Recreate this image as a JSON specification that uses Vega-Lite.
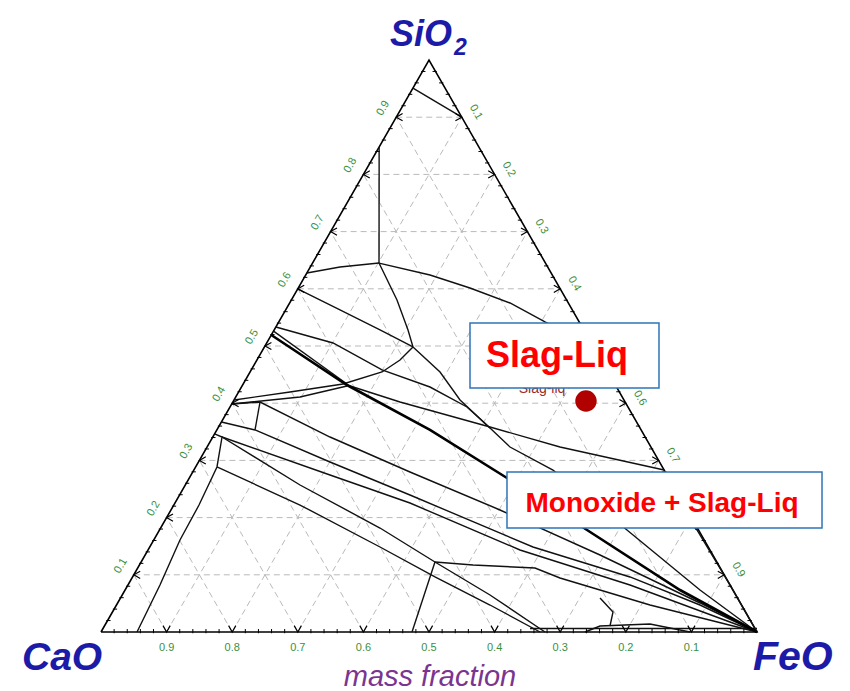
{
  "$schema": "https://vega.github.io/schema/vega-lite/v6.json",
  "width": 656,
  "height": 572,
  "autosize": {"type": "none"},
  "padding": {"left": 101, "top": 60, "right": 93, "bottom": 59},
  "background": "white",
  "config": {"view": {"stroke": null}, "font": "Liberation Sans"},
  "datasets": {
    "grid": [
      {"x": 0.05, "s": 0.1, "x2": 0.95, "s2": 0.1},
      {"x": 0.1, "s": 0.2, "x2": 0.9, "s2": 0.2},
      {"x": 0.15, "s": 0.3, "x2": 0.85, "s2": 0.3},
      {"x": 0.2, "s": 0.4, "x2": 0.8, "s2": 0.4},
      {"x": 0.25, "s": 0.5, "x2": 0.75, "s2": 0.5},
      {"x": 0.3, "s": 0.6, "x2": 0.7, "s2": 0.6},
      {"x": 0.35, "s": 0.7, "x2": 0.65, "s2": 0.7},
      {"x": 0.4, "s": 0.8, "x2": 0.6, "s2": 0.8},
      {"x": 0.45, "s": 0.9, "x2": 0.55, "s2": 0.9},
      {"x": 0.1, "s": 0, "x2": 0.55, "s2": 0.9},
      {"x": 0.2, "s": 0, "x2": 0.6, "s2": 0.8},
      {"x": 0.3, "s": 0, "x2": 0.65, "s2": 0.7},
      {"x": 0.4, "s": 0, "x2": 0.7, "s2": 0.6},
      {"x": 0.5, "s": 0, "x2": 0.75, "s2": 0.5},
      {"x": 0.6, "s": 0, "x2": 0.8, "s2": 0.4},
      {"x": 0.7, "s": 0, "x2": 0.85, "s2": 0.3},
      {"x": 0.8, "s": 0, "x2": 0.9, "s2": 0.2},
      {"x": 0.9, "s": 0, "x2": 0.95, "s2": 0.1},
      {"x": 0.9, "s": 0, "x2": 0.45, "s2": 0.9},
      {"x": 0.8, "s": 0, "x2": 0.4, "s2": 0.8},
      {"x": 0.7, "s": 0, "x2": 0.35, "s2": 0.7},
      {"x": 0.6, "s": 0, "x2": 0.3, "s2": 0.6},
      {"x": 0.5, "s": 0, "x2": 0.25, "s2": 0.5},
      {"x": 0.4, "s": 0, "x2": 0.2, "s2": 0.4},
      {"x": 0.3, "s": 0, "x2": 0.15, "s2": 0.3},
      {"x": 0.2, "s": 0, "x2": 0.1, "s2": 0.2},
      {"x": 0.1, "s": 0, "x2": 0.05, "s2": 0.1}
    ],
    "triangle": [
      {"o": 0, "x": 0, "s": 0},
      {"o": 1, "x": 0.5, "s": 1},
      {"o": 2, "x": 1, "s": 0},
      {"o": 3, "x": 0, "s": 0}
    ],
    "phase": [
      {"id": "L1", "o": 0, "x": 0.4755, "s": 0.951},
      {"id": "L1", "o": 1, "x": 0.55, "s": 0.9},
      {"id": "L2", "o": 0, "x": 0.424, "s": 0.848},
      {"id": "L2", "o": 1, "x": 0.4238, "s": 0.645},
      {"id": "L3", "o": 0, "x": 0.4238, "s": 0.645},
      {"id": "L3", "o": 1, "x": 0.3643, "s": 0.6381},
      {"id": "L3", "o": 2, "x": 0.3138, "s": 0.6276},
      {"id": "L4", "o": 0, "x": 0.4238, "s": 0.645},
      {"id": "L4", "o": 1, "x": 0.5015, "s": 0.6241},
      {"id": "L4", "o": 2, "x": 0.5625, "s": 0.6014},
      {"id": "L4", "o": 3, "x": 0.6235, "s": 0.5752},
      {"id": "L4", "o": 4, "x": 0.6768, "s": 0.542},
      {"id": "L4", "o": 5, "x": 0.75, "s": 0.5},
      {"id": "L5", "o": 0, "x": 0.4238, "s": 0.645},
      {"id": "L5", "o": 1, "x": 0.4512, "s": 0.5804},
      {"id": "L5", "o": 2, "x": 0.468, "s": 0.528},
      {"id": "L5", "o": 3, "x": 0.4756, "s": 0.4983},
      {"id": "L6", "o": 0, "x": 0.4756, "s": 0.4983},
      {"id": "L6", "o": 1, "x": 0.4558, "s": 0.4755},
      {"id": "L6", "o": 2, "x": 0.4284, "s": 0.4546},
      {"id": "L6", "o": 3, "x": 0.3689, "s": 0.4336},
      {"id": "L6", "o": 4, "x": 0.2881, "s": 0.4196},
      {"id": "L6", "o": 5, "x": 0.2028, "s": 0.4056},
      {"id": "L7", "o": 0, "x": 0.1993, "s": 0.3986},
      {"id": "L7", "o": 1, "x": 0.3034, "s": 0.4108},
      {"id": "L7", "o": 2, "x": 0.375, "s": 0.4301},
      {"id": "L8", "o": 0, "x": 0.2998, "s": 0.5997},
      {"id": "L8", "o": 1, "x": 0.3643, "s": 0.563},
      {"id": "L8", "o": 2, "x": 0.4253, "s": 0.528},
      {"id": "L8", "o": 3, "x": 0.4756, "s": 0.4983},
      {"id": "L9", "o": 0, "x": 0.4756, "s": 0.4983},
      {"id": "L9", "o": 1, "x": 0.5168, "s": 0.4546},
      {"id": "L9", "o": 2, "x": 0.5473, "s": 0.4056},
      {"id": "L9", "o": 3, "x": 0.593, "s": 0.3567},
      {"id": "L9", "o": 4, "x": 0.6235, "s": 0.3234},
      {"id": "L9", "o": 5, "x": 0.689, "s": 0.2832},
      {"id": "L9", "o": 6, "x": 0.8018, "s": 0.1783},
      {"id": "L9", "o": 7, "x": 0.9131, "s": 0.0734},
      {"id": "L9", "o": 8, "x": 1, "s": 0},
      {"id": "L9b", "o": 0, "x": 0.375, "s": 0.4318},
      {"id": "L9b", "o": 1, "x": 0.4558, "s": 0.4021},
      {"id": "L9b", "o": 2, "x": 0.593, "s": 0.3584},
      {"id": "L9b", "o": 3, "x": 0.6997, "s": 0.3234},
      {"id": "L9b", "o": 4, "x": 0.8584, "s": 0.2832},
      {"id": "L10", "o": 0, "x": 0.2666, "s": 0.5332},
      {"id": "L10", "o": 1, "x": 0.3537, "s": 0.5053},
      {"id": "L10", "o": 2, "x": 0.4284, "s": 0.4581},
      {"id": "L10", "o": 3, "x": 0.5015, "s": 0.4283},
      {"id": "L10", "o": 4, "x": 0.5579, "s": 0.3934},
      {"id": "L10", "o": 5, "x": 0.593, "s": 0.3567},
      {"id": "F1", "o": 0, "x": 0.2596, "s": 0.5192},
      {"id": "F1", "o": 1, "x": 0.375, "s": 0.4318},
      {"id": "F1", "o": 2, "x": 0.5015, "s": 0.3532},
      {"id": "F1", "o": 3, "x": 0.6189, "s": 0.2692},
      {"id": "F1", "o": 4, "x": 0.7409, "s": 0.1783},
      {"id": "F1", "o": 5, "x": 0.8826, "s": 0.0734},
      {"id": "F1", "o": 6, "x": 1, "s": 0},
      {"id": "F1b", "o": 0, "x": 0.263, "s": 0.526},
      {"id": "F1b", "o": 1, "x": 0.375, "s": 0.4336},
      {"id": "F2", "o": 0, "x": 0.1993, "s": 0.3986},
      {"id": "F2", "o": 1, "x": 0.2424, "s": 0.4021},
      {"id": "F2", "o": 2, "x": 0.3491, "s": 0.3409},
      {"id": "F2", "o": 3, "x": 0.471, "s": 0.2797},
      {"id": "F2", "o": 4, "x": 0.6082, "s": 0.2133},
      {"id": "F2", "o": 5, "x": 0.7607, "s": 0.1346},
      {"id": "F2", "o": 6, "x": 0.9131, "s": 0.0507},
      {"id": "F2", "o": 7, "x": 1, "s": 0},
      {"id": "F3", "o": 0, "x": 0.2348, "s": 0.3532},
      {"id": "F3", "o": 1, "x": 0.3491, "s": 0.2972},
      {"id": "F3", "o": 2, "x": 0.471, "s": 0.2395},
      {"id": "F3", "o": 3, "x": 0.6585, "s": 0.1486},
      {"id": "F3", "o": 4, "x": 0.8064, "s": 0.0962},
      {"id": "F3", "o": 5, "x": 0.9131, "s": 0.0472},
      {"id": "F3", "o": 6, "x": 1, "s": 0},
      {"id": "F4", "o": 0, "x": 0.1845, "s": 0.3409},
      {"id": "F4", "o": 1, "x": 0.3491, "s": 0.2745},
      {"id": "F4", "o": 2, "x": 0.471, "s": 0.2255},
      {"id": "F4", "o": 3, "x": 0.6387, "s": 0.1434},
      {"id": "F4", "o": 4, "x": 0.8064, "s": 0.0822},
      {"id": "F4", "o": 5, "x": 1, "s": 0},
      {"id": "F5", "o": 0, "x": 0.1768, "s": 0.2885},
      {"id": "F5", "o": 1, "x": 0.3034, "s": 0.222},
      {"id": "F5", "o": 2, "x": 0.4253, "s": 0.1486},
      {"id": "F5", "o": 3, "x": 0.5091, "s": 0.0962},
      {"id": "F5", "o": 4, "x": 0.593, "s": 0.0472},
      {"id": "F5", "o": 5, "x": 0.6692, "s": 0},
      {"id": "F6", "o": 0, "x": 0.1845, "s": 0.3409},
      {"id": "F6", "o": 1, "x": 0.3034, "s": 0.257},
      {"id": "F6", "o": 2, "x": 0.4253, "s": 0.1818},
      {"id": "F6", "o": 3, "x": 0.5091, "s": 0.1224},
      {"id": "F6", "o": 4, "x": 0.593, "s": 0.0647},
      {"id": "F6", "o": 5, "x": 0.6768, "s": 0},
      {"id": "V", "o": 0, "x": 0.1731, "s": 0.3462},
      {"id": "V", "o": 1, "x": 0.1845, "s": 0.3409},
      {"id": "V", "o": 2, "x": 0.1768, "s": 0.2885},
      {"id": "V", "o": 3, "x": 0.1494, "s": 0.222},
      {"id": "V", "o": 4, "x": 0.1204, "s": 0.1608},
      {"id": "V", "o": 5, "x": 0.0899, "s": 0.0822},
      {"id": "V", "o": 6, "x": 0.0549, "s": 0},
      {"id": "S2", "o": 0, "x": 0.2424, "s": 0.4021},
      {"id": "S2", "o": 1, "x": 0.2348, "s": 0.3532},
      {"id": "S3", "o": 0, "x": 0.1836, "s": 0.3671},
      {"id": "S3", "o": 1, "x": 0.2348, "s": 0.3532},
      {"id": "J1", "o": 0, "x": 0.5091, "s": 0.1224},
      {"id": "J1", "o": 1, "x": 0.4741, "s": 0},
      {"id": "J2", "o": 0, "x": 0.5091, "s": 0.1224},
      {"id": "J2", "o": 1, "x": 0.5671, "s": 0.1171},
      {"id": "J2", "o": 2, "x": 0.6616, "s": 0.1119},
      {"id": "J2", "o": 3, "x": 0.6997, "s": 0.0944},
      {"id": "J2", "o": 4, "x": 0.8369, "s": 0.0472},
      {"id": "J2", "o": 5, "x": 1, "s": 0},
      {"id": "B1", "o": 0, "x": 0.7607, "s": 0.0594},
      {"id": "B1", "o": 1, "x": 0.7805, "s": 0.035},
      {"id": "B1", "o": 2, "x": 0.7759, "s": 0.0105},
      {"id": "B2", "o": 0, "x": 0.7378, "s": 0},
      {"id": "B2", "o": 1, "x": 0.7607, "s": 0.0105},
      {"id": "B2", "o": 2, "x": 0.8369, "s": 0.014},
      {"id": "B2", "o": 3, "x": 0.8979, "s": 0},
      {"id": "ST", "o": 0, "x": 0.8216, "s": 0.2797},
      {"id": "ST", "o": 1, "x": 0.9085, "s": 0.1783},
      {"id": "ST", "o": 2, "x": 0.9588, "s": 0.0822},
      {"id": "ST", "o": 3, "x": 1, "s": 0},
      {"id": "BB", "o": 0, "x": 0.654, "s": 0.006},
      {"id": "BB", "o": 1, "x": 1, "s": 0.006}
    ],
    "minorTicks": [
      {"e": "L", "x": 0.01, "s": 0.02}, {"e": "L", "x": 0.02, "s": 0.04}, {"e": "L", "x": 0.03, "s": 0.06}, {"e": "L", "x": 0.04, "s": 0.08},
      {"e": "L", "x": 0.06, "s": 0.12}, {"e": "L", "x": 0.07, "s": 0.14}, {"e": "L", "x": 0.08, "s": 0.16}, {"e": "L", "x": 0.09, "s": 0.18},
      {"e": "L", "x": 0.11, "s": 0.22}, {"e": "L", "x": 0.12, "s": 0.24}, {"e": "L", "x": 0.13, "s": 0.26}, {"e": "L", "x": 0.14, "s": 0.28},
      {"e": "L", "x": 0.16, "s": 0.32}, {"e": "L", "x": 0.17, "s": 0.34}, {"e": "L", "x": 0.18, "s": 0.36}, {"e": "L", "x": 0.19, "s": 0.38},
      {"e": "L", "x": 0.21, "s": 0.42}, {"e": "L", "x": 0.22, "s": 0.44}, {"e": "L", "x": 0.23, "s": 0.46}, {"e": "L", "x": 0.24, "s": 0.48},
      {"e": "L", "x": 0.26, "s": 0.52}, {"e": "L", "x": 0.27, "s": 0.54}, {"e": "L", "x": 0.28, "s": 0.56}, {"e": "L", "x": 0.29, "s": 0.58},
      {"e": "L", "x": 0.31, "s": 0.62}, {"e": "L", "x": 0.32, "s": 0.64}, {"e": "L", "x": 0.33, "s": 0.66}, {"e": "L", "x": 0.34, "s": 0.68},
      {"e": "L", "x": 0.36, "s": 0.72}, {"e": "L", "x": 0.37, "s": 0.74}, {"e": "L", "x": 0.38, "s": 0.76}, {"e": "L", "x": 0.39, "s": 0.78},
      {"e": "L", "x": 0.41, "s": 0.82}, {"e": "L", "x": 0.42, "s": 0.84}, {"e": "L", "x": 0.43, "s": 0.86}, {"e": "L", "x": 0.44, "s": 0.88},
      {"e": "L", "x": 0.46, "s": 0.92}, {"e": "L", "x": 0.47, "s": 0.94}, {"e": "L", "x": 0.48, "s": 0.96}, {"e": "L", "x": 0.49, "s": 0.98},
      {"e": "R", "x": 0.99, "s": 0.02}, {"e": "R", "x": 0.98, "s": 0.04}, {"e": "R", "x": 0.97, "s": 0.06}, {"e": "R", "x": 0.96, "s": 0.08},
      {"e": "R", "x": 0.94, "s": 0.12}, {"e": "R", "x": 0.93, "s": 0.14}, {"e": "R", "x": 0.92, "s": 0.16}, {"e": "R", "x": 0.91, "s": 0.18},
      {"e": "R", "x": 0.89, "s": 0.22}, {"e": "R", "x": 0.88, "s": 0.24}, {"e": "R", "x": 0.87, "s": 0.26}, {"e": "R", "x": 0.86, "s": 0.28},
      {"e": "R", "x": 0.84, "s": 0.32}, {"e": "R", "x": 0.83, "s": 0.34}, {"e": "R", "x": 0.82, "s": 0.36}, {"e": "R", "x": 0.81, "s": 0.38},
      {"e": "R", "x": 0.79, "s": 0.42}, {"e": "R", "x": 0.78, "s": 0.44}, {"e": "R", "x": 0.77, "s": 0.46}, {"e": "R", "x": 0.76, "s": 0.48},
      {"e": "R", "x": 0.74, "s": 0.52}, {"e": "R", "x": 0.73, "s": 0.54}, {"e": "R", "x": 0.72, "s": 0.56}, {"e": "R", "x": 0.71, "s": 0.58},
      {"e": "R", "x": 0.69, "s": 0.62}, {"e": "R", "x": 0.68, "s": 0.64}, {"e": "R", "x": 0.67, "s": 0.66}, {"e": "R", "x": 0.66, "s": 0.68},
      {"e": "R", "x": 0.64, "s": 0.72}, {"e": "R", "x": 0.63, "s": 0.74}, {"e": "R", "x": 0.62, "s": 0.76}, {"e": "R", "x": 0.61, "s": 0.78},
      {"e": "R", "x": 0.59, "s": 0.82}, {"e": "R", "x": 0.58, "s": 0.84}, {"e": "R", "x": 0.57, "s": 0.86}, {"e": "R", "x": 0.56, "s": 0.88},
      {"e": "R", "x": 0.54, "s": 0.92}, {"e": "R", "x": 0.53, "s": 0.94}, {"e": "R", "x": 0.52, "s": 0.96}, {"e": "R", "x": 0.51, "s": 0.98},
      {"e": "B", "x": 0.02, "s": 0}, {"e": "B", "x": 0.04, "s": 0}, {"e": "B", "x": 0.06, "s": 0}, {"e": "B", "x": 0.08, "s": 0},
      {"e": "B", "x": 0.12, "s": 0}, {"e": "B", "x": 0.14, "s": 0}, {"e": "B", "x": 0.16, "s": 0}, {"e": "B", "x": 0.18, "s": 0},
      {"e": "B", "x": 0.22, "s": 0}, {"e": "B", "x": 0.24, "s": 0}, {"e": "B", "x": 0.26, "s": 0}, {"e": "B", "x": 0.28, "s": 0},
      {"e": "B", "x": 0.32, "s": 0}, {"e": "B", "x": 0.34, "s": 0}, {"e": "B", "x": 0.36, "s": 0}, {"e": "B", "x": 0.38, "s": 0},
      {"e": "B", "x": 0.42, "s": 0}, {"e": "B", "x": 0.44, "s": 0}, {"e": "B", "x": 0.46, "s": 0}, {"e": "B", "x": 0.48, "s": 0},
      {"e": "B", "x": 0.52, "s": 0}, {"e": "B", "x": 0.54, "s": 0}, {"e": "B", "x": 0.56, "s": 0}, {"e": "B", "x": 0.58, "s": 0},
      {"e": "B", "x": 0.62, "s": 0}, {"e": "B", "x": 0.64, "s": 0}, {"e": "B", "x": 0.66, "s": 0}, {"e": "B", "x": 0.68, "s": 0},
      {"e": "B", "x": 0.72, "s": 0}, {"e": "B", "x": 0.74, "s": 0}, {"e": "B", "x": 0.76, "s": 0}, {"e": "B", "x": 0.78, "s": 0},
      {"e": "B", "x": 0.82, "s": 0}, {"e": "B", "x": 0.84, "s": 0}, {"e": "B", "x": 0.86, "s": 0}, {"e": "B", "x": 0.88, "s": 0},
      {"e": "B", "x": 0.92, "s": 0}, {"e": "B", "x": 0.94, "s": 0}, {"e": "B", "x": 0.96, "s": 0}, {"e": "B", "x": 0.98, "s": 0}
    ],
    "majorTicks": [
      {"e": "L", "x": 0.05, "s": 0.1, "t": "0.1"}, {"e": "L", "x": 0.1, "s": 0.2, "t": "0.2"}, {"e": "L", "x": 0.15, "s": 0.3, "t": "0.3"},
      {"e": "L", "x": 0.2, "s": 0.4, "t": "0.4"}, {"e": "L", "x": 0.25, "s": 0.5, "t": "0.5"}, {"e": "L", "x": 0.3, "s": 0.6, "t": "0.6"},
      {"e": "L", "x": 0.35, "s": 0.7, "t": "0.7"}, {"e": "L", "x": 0.4, "s": 0.8, "t": "0.8"}, {"e": "L", "x": 0.45, "s": 0.9, "t": "0.9"},
      {"e": "R", "x": 0.55, "s": 0.9, "t": "0.1"}, {"e": "R", "x": 0.6, "s": 0.8, "t": "0.2"}, {"e": "R", "x": 0.65, "s": 0.7, "t": "0.3"},
      {"e": "R", "x": 0.7, "s": 0.6, "t": "0.4"}, {"e": "R", "x": 0.75, "s": 0.5, "t": "0.5"}, {"e": "R", "x": 0.8, "s": 0.4, "t": "0.6"},
      {"e": "R", "x": 0.85, "s": 0.3, "t": "0.7"}, {"e": "R", "x": 0.9, "s": 0.2, "t": "0.8"}, {"e": "R", "x": 0.95, "s": 0.1, "t": "0.9"},
      {"e": "B", "x": 0.1, "s": 0, "t": "0.9"}, {"e": "B", "x": 0.2, "s": 0, "t": "0.8"}, {"e": "B", "x": 0.3, "s": 0, "t": "0.7"},
      {"e": "B", "x": 0.4, "s": 0, "t": "0.6"}, {"e": "B", "x": 0.5, "s": 0, "t": "0.5"}, {"e": "B", "x": 0.6, "s": 0, "t": "0.4"},
      {"e": "B", "x": 0.7, "s": 0, "t": "0.3"}, {"e": "B", "x": 0.8, "s": 0, "t": "0.2"}, {"e": "B", "x": 0.9, "s": 0, "t": "0.1"}
    ],
    "boxes": [
      {"x": 0.5625, "x2": 0.8506, "s": 0.5402, "s2": 0.4266},
      {"x": 0.6189, "x2": 1.0991, "s": 0.2797, "s2": 0.1818}
    ]
  },
  "encoding": {
    "x": {"field": "x", "type": "quantitative", "scale": {"domain": [0, 1], "nice": false, "zero": false}, "axis": null},
    "y": {"field": "s", "type": "quantitative", "scale": {"domain": [0, 1], "nice": false, "zero": false}, "axis": null}
  },
  "layer": [
    {
      "data": {"name": "grid"},
      "mark": {"type": "rule", "color": "#bababa", "strokeWidth": 1, "strokeDash": [6, 4], "clip": false},
      "encoding": {"x2": {"field": "x2"}, "y2": {"field": "s2"}}
    },
    {
      "data": {"name": "triangle"},
      "mark": {"type": "line", "color": "#000000", "strokeWidth": 1.6, "clip": false},
      "encoding": {"order": {"field": "o", "type": "quantitative"}}
    },
    {
      "data": {"name": "phase"},
      "transform": [{"filter": "datum.id !== 'F1'"}],
      "mark": {"type": "line", "color": "#111111", "strokeWidth": 1.4, "clip": false},
      "encoding": {
        "detail": {"field": "id", "type": "nominal"},
        "order": {"field": "o", "type": "quantitative"}
      }
    },
    {
      "data": {"name": "phase"},
      "transform": [{"filter": "datum.id === 'F1'"}],
      "mark": {"type": "line", "color": "#000000", "strokeWidth": 2.6, "clip": false},
      "encoding": {
        "detail": {"field": "id", "type": "nominal"},
        "order": {"field": "o", "type": "quantitative"}
      }
    },
    {
      "data": {"name": "minorTicks"},
      "transform": [{"filter": "datum.e === 'L'"}],
      "mark": {"type": "point", "shape": "M-0.5,0L1.2,0", "size": 25, "filled": false, "stroke": "#000000", "strokeWidth": 1, "opacity": 1, "clip": false}
    },
    {
      "data": {"name": "minorTicks"},
      "transform": [{"filter": "datum.e === 'R'"}],
      "mark": {"type": "point", "shape": "M0.5,0L-1.2,0", "size": 25, "filled": false, "stroke": "#000000", "strokeWidth": 1, "opacity": 1, "clip": false}
    },
    {
      "data": {"name": "minorTicks"},
      "transform": [{"filter": "datum.e === 'B'"}],
      "mark": {"type": "point", "shape": "M0,0.5L0,-1.2", "size": 25, "filled": false, "stroke": "#000000", "strokeWidth": 1, "opacity": 1, "clip": false}
    },
    {
      "data": {"name": "majorTicks"},
      "transform": [{"filter": "datum.e === 'L'"}],
      "mark": {"type": "point", "shape": "M1.6,-0.9L0,0L1.6,0.9", "size": 64, "filled": false, "stroke": "#000000", "strokeWidth": 1.2, "opacity": 1, "clip": false}
    },
    {
      "data": {"name": "majorTicks"},
      "transform": [{"filter": "datum.e === 'R'"}],
      "mark": {"type": "point", "shape": "M-1.6,-0.9L0,0L-1.6,0.9", "size": 64, "filled": false, "stroke": "#000000", "strokeWidth": 1.2, "opacity": 1, "clip": false}
    },
    {
      "data": {"name": "majorTicks"},
      "transform": [{"filter": "datum.e === 'B'"}],
      "mark": {"type": "point", "shape": "M-0.9,-1.6L0,0L0.9,-1.6", "size": 64, "filled": false, "stroke": "#000000", "strokeWidth": 1.2, "opacity": 1, "clip": false}
    },
    {
      "data": {"name": "majorTicks"},
      "transform": [{"filter": "datum.e === 'L'"}],
      "mark": {"type": "text", "fontSize": 11, "color": "#3d8f3d", "angle": 300, "align": "center", "baseline": "middle", "radius": 15.8, "theta": -0.965, "clip": false},
      "encoding": {"text": {"field": "t"}}
    },
    {
      "data": {"name": "majorTicks"},
      "transform": [{"filter": "datum.e === 'R'"}],
      "mark": {"type": "text", "fontSize": 11, "color": "#3d8f3d", "angle": 60, "align": "center", "baseline": "middle", "radius": 15, "theta": 1.227, "clip": false},
      "encoding": {"text": {"field": "t"}}
    },
    {
      "data": {"name": "majorTicks"},
      "transform": [{"filter": "datum.e === 'B'"}],
      "mark": {"type": "text", "fontSize": 11, "color": "#3d8f3d", "align": "center", "baseline": "middle", "dy": 16, "clip": false},
      "encoding": {"text": {"field": "t"}}
    },
    {
      "data": {"values": [{"t": "SiO", "x": 0.4405, "s": 1.0245}]},
      "mark": {"type": "text", "fontSize": 36, "fontStyle": "italic", "fontWeight": "bold", "color": "#1b1ba8", "align": "left", "baseline": "alphabetic", "clip": false},
      "encoding": {"text": {"field": "t"}}
    },
    {
      "data": {"values": [{"t": "2", "x": 0.5381, "s": 1.0087}]},
      "mark": {"type": "text", "fontSize": 23, "fontStyle": "italic", "fontWeight": "bold", "color": "#1b1ba8", "align": "left", "baseline": "alphabetic", "clip": false},
      "encoding": {"text": {"field": "t"}}
    },
    {
      "data": {"values": [{"t": "CaO", "x": -0.1204, "s": -0.0664}]},
      "mark": {"type": "text", "fontSize": 39, "fontStyle": "italic", "fontWeight": "bold", "color": "#1b1ba8", "align": "left", "baseline": "alphabetic", "clip": false},
      "encoding": {"text": {"field": "t"}}
    },
    {
      "data": {"values": [{"t": "FeO", "x": 0.9939, "s": -0.0664}]},
      "mark": {"type": "text", "fontSize": 41, "fontStyle": "italic", "fontWeight": "bold", "color": "#1b1ba8", "align": "left", "baseline": "alphabetic", "clip": false},
      "encoding": {"text": {"field": "t"}}
    },
    {
      "data": {"values": [{"t": "mass fraction", "x": 0.5015, "s": -0.0944}]},
      "mark": {"type": "text", "fontSize": 29, "fontStyle": "italic", "color": "#7a3590", "align": "center", "baseline": "alphabetic", "clip": false},
      "encoding": {"text": {"field": "t"}}
    },
    {
      "data": {"values": [{"t": "Slag-liq", "x": 0.6723, "s": 0.4178}]},
      "mark": {"type": "text", "fontSize": 14, "color": "#9a2a2a", "align": "center", "baseline": "alphabetic", "clip": false},
      "encoding": {"text": {"field": "t"}}
    },
    {
      "data": {"name": "boxes"},
      "mark": {"type": "rect", "fill": "#ffffff", "stroke": "#2e75b6", "strokeWidth": 1.5, "clip": false},
      "encoding": {"x2": {"field": "x2"}, "y2": {"field": "s2"}}
    },
    {
      "data": {"values": [{"t": "Slag-Liq", "x": 0.6951, "s": 0.4633}]},
      "mark": {"type": "text", "fontSize": 36, "fontWeight": "bold", "color": "#ff0000", "align": "center", "baseline": "alphabetic", "clip": false},
      "encoding": {"text": {"field": "t"}}
    },
    {
      "data": {"values": [{"t": "Monoxide + Slag-Liq", "x": 0.8552, "s": 0.2098}]},
      "mark": {"type": "text", "fontSize": 28, "fontWeight": "bold", "color": "#ff0000", "align": "center", "baseline": "alphabetic", "clip": false},
      "encoding": {"text": {"field": "t"}}
    },
    {
      "data": {"values": [{"x": 0.7393, "s": 0.4038}]},
      "mark": {"type": "point", "filled": true, "color": "#b00000", "size": 460, "opacity": 1, "shape": "circle", "clip": false}
    }
  ]
}
